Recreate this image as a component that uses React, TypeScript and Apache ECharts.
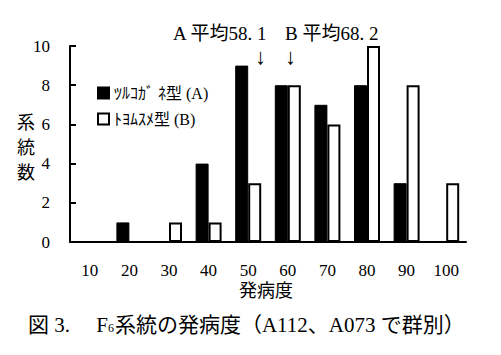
import React, { useEffect, useRef } from "react";
import * as echarts from "echarts";

const categories = ["10", "20", "30", "40", "50", "60", "70", "80", "90", "100"];
const seriesA = [0, 1, 0, 4, 9, 8, 7, 8, 3, 0];
const seriesB = [0, 0, 1, 1, 3, 8, 6, 10, 8, 3];
const nameA = "ﾂﾙｺｶﾞ ﾈ型 (A)";
const nameB = "ﾄﾖﾑｽﾒ型 (B)";
const annA = "A 平均58. 1";
const annB = "B 平均68. 2";
const xTitle = "発病度";
const yTitle = "系\n統\n数";

const FONT = "'Liberation Serif', 'Noto Sans CJK JP', serif";

export default function App() {
  const ref = useRef<HTMLDivElement>(null);
  useEffect(() => {
    const chart = echarts.init(ref.current!, null, { renderer: "svg" });
    chart.setOption({
      animation: false,
      backgroundColor: "#fff",
      textStyle: { fontFamily: FONT, color: "#000" },
      grid: { left: 70, right: 35, top: 46, bottom: 113 },
      legend: {
        orient: "vertical",
        left: 92,
        top: 80,
        itemWidth: 11,
        itemHeight: 11,
        itemGap: 10,
        icon: "rect",
        textStyle: { fontFamily: FONT, fontSize: 16, color: "#000" },
        data: [nameA, nameB],
      },
      xAxis: {
        type: "category",
        data: categories,
        axisLine: { lineStyle: { color: "#000", width: 2 } },
        axisTick: { inside: true, length: 6, lineStyle: { color: "#000", width: 2 } },
        axisLabel: { color: "#000", fontSize: 17, margin: 20, fontFamily: FONT },
      },
      yAxis: {
        type: "value",
        min: 0,
        max: 10,
        interval: 2,
        splitLine: { show: false },
        axisLine: { show: true, lineStyle: { color: "#000", width: 2 } },
        axisTick: { show: true, inside: true, length: 6, lineStyle: { color: "#000", width: 2 } },
        axisLabel: { color: "#000", fontSize: 17, margin: 20, fontFamily: FONT },
      },
      series: [
        {
          name: nameA,
          type: "bar",
          data: seriesA,
          barWidth: 13,
          barGap: "0%",
          itemStyle: { color: "#000", borderColor: "#000", borderWidth: 1 },
        },
        {
          name: nameB,
          type: "bar",
          data: seriesB,
          barWidth: 13,
          itemStyle: { color: "#fff", borderColor: "#000", borderWidth: 2 },
        },
      ],
      graphic: [
        { type: "text", left: 173, top: 24, style: { text: annA, font: `19px ${FONT}`, fill: "#000" } },
        { type: "text", left: 255, top: 45, style: { text: "↓", font: `22px ${FONT}`, fill: "#000" } },
        { type: "text", left: 285, top: 24, style: { text: annB, font: `19px ${FONT}`, fill: "#000" } },
        { type: "text", left: 285, top: 45, style: { text: "↓", font: `22px ${FONT}`, fill: "#000" } },
        { type: "text", left: 17, top: 110, style: { text: yTitle, font: `18px ${FONT}`, fill: "#000", lineHeight: 25 } },
        { type: "text", left: 239, top: 282, style: { text: xTitle, font: `18px ${FONT}`, fill: "#000" } },
        {
          type: "text",
          left: 28,
          top: 314,
          style: {
            text: "{a|図 3.　 F}{s|6}{a|系統の発病度（A112、A073 で群別）}",
            rich: {
              a: { font: `21px ${FONT}`, fill: "#000", verticalAlign: "bottom" },
              s: { font: `12px ${FONT}`, fill: "#000", verticalAlign: "bottom", padding: [0, 1, 1, 0] },
            },
          },
        },
      ],
    });
    return () => chart.dispose();
  }, []);
  return <div ref={ref} style={{ width: 501, height: 355, margin: -8 }} />;
}
